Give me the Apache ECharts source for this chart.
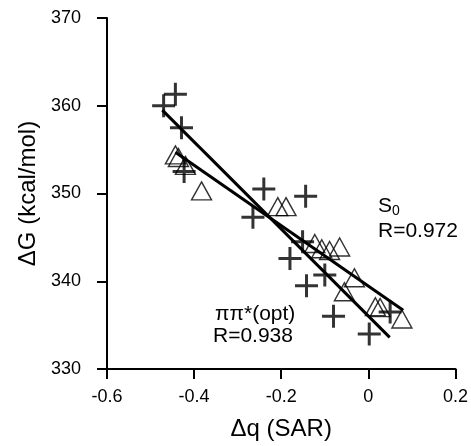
<!DOCTYPE html>
<html>
<head>
<meta charset="utf-8">
<script src="https://cdn.jsdelivr.net/npm/echarts@6/dist/echarts.min.js"></script>
<style>html,body{margin:0;padding:0;background:#fff;}#c{width:471px;height:446px;}</style>
</head>
<body>
<div id="c"></div>
<script>
// ππ*(opt) series (crosses)
var crossX = [-0.470, -0.443, -0.429, -0.423, -0.240, -0.265, -0.144, -0.151, -0.180, -0.100, -0.142, -0.080, 0.002, 0.050];
var crossY = [360.0, 361.3, 357.5, 352.5, 350.5, 347.3, 349.7, 344.5, 342.6, 340.7, 339.5, 336.0, 334.0, 336.5];
// S0 series (triangles)
var triX = [-0.443, -0.436, -0.420, -0.383, -0.208, -0.189, -0.123, -0.107, -0.089, -0.066, -0.032, -0.055, 0.016, 0.027, 0.077];
var triY = [354.4, 354.1, 353.2, 350.3, 348.5, 348.5, 344.3, 343.7, 343.5, 343.9, 340.4, 338.8, 337.1, 337.0, 335.7];
// fit lines (endpoints)
var fitCrossX = [-0.473, 0.049];
var fitCrossY = [359.5, 333.6];
var fitTriX = [-0.443, 0.080];
var fitTriY = [354.7, 336.7];
// axes
var xTicks = [-0.6, -0.4, -0.2, 0, 0.2];
var yTicks = [330, 340, 350, 360, 370];

function pairs(xs, ys) { return xs.map(function (x, i) { return [x, ys[i]]; }); }

var FONT = 'Liberation Sans, Arial, sans-serif';
var crossPath = 'path://M10,0 H13 V10 H23 V13 H13 V23 H10 V13 H0 V10 H10 Z';

var chart = echarts.init(document.getElementById('c'), null, {renderer: 'canvas'});
chart.setOption({
  animation: false,
  backgroundColor: '#fff',
  grid: {left: 107, right: 14, top: 18, bottom: 75, containLabel: false},
  xAxis: {
    type: 'value', min: xTicks[0], max: xTicks[xTicks.length - 1], interval: 0.2,
    name: 'Δq (SAR)', nameLocation: 'middle', nameGap: 48,
    nameTextStyle: {fontFamily: FONT, fontSize: 24, color: '#000'},
    axisLine: {onZero: false, lineStyle: {color: '#000', width: 2}},
    axisTick: {show: true, inside: false, length: 10, lineStyle: {color: '#000', width: 2}},
    axisLabel: {fontFamily: FONT, fontSize: 18, color: '#000', margin: 19,
      formatter: function (v) { return String(Math.round(v * 10) / 10); }},
    splitLine: {show: false}
  },
  yAxis: {
    type: 'value', min: yTicks[0], max: yTicks[yTicks.length - 1], interval: 10,
    name: 'ΔG (kcal/mol)', nameLocation: 'middle', nameGap: 60,
    nameTextStyle: {fontFamily: FONT, fontSize: 24, color: '#000'},
    axisLine: {onZero: false, lineStyle: {color: '#000', width: 2}},
    axisTick: {show: true, inside: false, length: 10, lineStyle: {color: '#000', width: 2}},
    axisLabel: {fontFamily: FONT, fontSize: 18, color: '#000', margin: 26},
    splitLine: {show: false}
  },
  series: [
    {type: 'line', data: pairs(fitCrossX, fitCrossY), symbol: 'none', lineStyle: {color: '#000', width: 3}, z: 3},
    {type: 'line', data: pairs(fitTriX, fitTriY), symbol: 'none', lineStyle: {color: '#000', width: 3}, z: 3},
    {type: 'scatter', data: pairs(crossX, crossY), symbol: crossPath, symbolSize: 23,
      itemStyle: {color: '#000'}, z: 4},
    {type: 'scatter', data: pairs(triX, triY), symbol: 'triangle', symbolSize: [20, 18],
      itemStyle: {color: 'rgba(0,0,0,0)', borderColor: '#000', borderWidth: 1.4}, z: 4}
  ],
  graphic: [
    {type: 'text', left: 378, top: 196, style: {
      text: '{a|S}{b|0}', fill: '#000',
      rich: {a: {fontFamily: FONT, fontSize: 21, fill: '#000'},
             b: {fontFamily: FONT, fontSize: 14, fill: '#000', verticalAlign: 'bottom', padding: [9, 0, 0, 0]}}
    }},
    {type: 'text', left: 378, top: 221, style: {text: 'R=0.972', font: '21px ' + FONT, fill: '#000'}},
    {type: 'text', left: 215, top: 304, style: {text: 'ππ*(opt)', font: '21px ' + FONT, fill: '#000'}},
    {type: 'text', left: 213, top: 326, style: {text: 'R=0.938', font: '21px ' + FONT, fill: '#000'}}
  ]
});
</script>
</body>
</html>
